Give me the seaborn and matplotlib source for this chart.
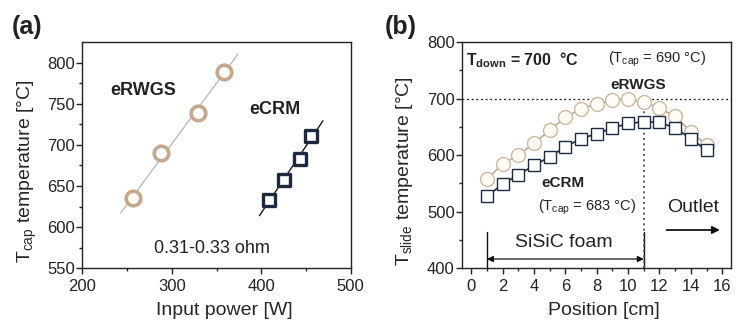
import numpy as np
import pandas as pd
import matplotlib
matplotlib.use("Agg")
import matplotlib.pyplot as plt
import seaborn as sns

# ---------------- data ----------------
# Panel (a): T_cap vs input power
rwgs_power = [256.5, 288.5, 329.4, 358.0]
rwgs_tcap = [635, 690, 739, 789]
crm_power = [408.9, 425.7, 442.8, 455.8]
crm_tcap = [633.5, 657.7, 683, 711]
rwgs_fit_range = [243, 374]
crm_fit_range = [398, 469]

# Panel (b): T_slide vs position
position = [1, 2, 3, 4, 5, 6, 7, 8, 9, 10, 11, 12, 13, 14, 15]
rwgs_slide = [557, 585, 600, 621, 644, 667, 682, 691, 697, 700, 694, 683, 669, 641, 618]
crm_slide = [527, 549, 565, 582, 597, 615, 629, 638, 648, 656, 659, 658, 648, 629, 609]
t_down = 700
foam_start, foam_end = 1, 11

# ---------------- style ----------------
sns.set_style("ticks")
plt.rcParams["font.family"] = ["Liberation Sans", "DejaVu Sans"]
plt.rcParams["mathtext.fontset"] = "custom"
plt.rcParams["mathtext.rm"] = "Liberation Sans"
plt.rcParams["mathtext.it"] = "Liberation Sans:italic"
plt.rcParams["mathtext.bf"] = "Liberation Sans:bold"
plt.rcParams["axes.linewidth"] = 1.0
plt.rcParams["axes.edgecolor"] = "#222222"
plt.rcParams["text.color"] = "#222222"

TAN_A = "#c6a98c"
GRAY_LINE = "#bcbcbc"
NAVY = "#1c2a40"
TAN_B_EDGE = "#cbb9a2"
TAN_B_LINE = "#c4a98a"
CREAM = "#fdfbf4"

fig = plt.figure(figsize=(7.39, 3.31), dpi=100)
W, H = 739, 331
axa = fig.add_axes([82.3 / W, (H - 268.3) / H, 268.4 / W, 226.3 / H])
axb = fig.add_axes([462.3 / W, (H - 268.3) / H, 268.4 / W, 226.3 / H])


def style_axis(ax):
    for s in ["top", "right", "left", "bottom"]:
        ax.spines[s].set_visible(True)
        ax.spines[s].set_color("#222222")
        ax.spines[s].set_linewidth(1.0)
    ax.tick_params(which="both", direction="out", top=False, right=False,
                   labelsize=12, colors="#222222")
    ax.tick_params(which="major", length=4, width=1.0, pad=1.5)
    ax.tick_params(which="minor", length=2.5, width=1.0)
    ax.tick_params(axis="x", which="major", pad=4)


# ---------------- panel (a) ----------------
df_rwgs = pd.DataFrame({"power": rwgs_power, "tcap": rwgs_tcap})
df_crm = pd.DataFrame({"power": crm_power, "tcap": crm_tcap})

k1, b1 = np.polyfit(rwgs_power, rwgs_tcap, 1)
k2, b2 = np.polyfit(crm_power, crm_tcap, 1)
fit1 = pd.DataFrame({"x": rwgs_fit_range, "y": [k1 * v + b1 for v in rwgs_fit_range]})
fit2 = pd.DataFrame({"x": crm_fit_range, "y": [k2 * v + b2 for v in crm_fit_range]})

sns.lineplot(data=fit1, x="x", y="y", ax=axa, color=GRAY_LINE, lw=1.0, zorder=1)
sns.lineplot(data=fit2, x="x", y="y", ax=axa, color="#1a1a1a", lw=1.0, zorder=1)
sns.scatterplot(data=df_rwgs, x="power", y="tcap", ax=axa, marker="o", s=110,
                facecolor="white", edgecolor=TAN_A, linewidth=2.6, zorder=3)
sns.scatterplot(data=df_crm, x="power", y="tcap", ax=axa, marker="s", s=75,
                facecolor="white", edgecolor=NAVY, linewidth=2.4, zorder=3)

axa.set_xlim(200, 500)
axa.set_ylim(550, 825)
axa.set_xticks([200, 300, 400, 500])
axa.set_xticks([250, 350, 450], minor=True)
axa.set_yticks([550, 600, 650, 700, 750, 800])
axa.set_yticks([575, 625, 675, 725, 775], minor=True)
style_axis(axa)
axa.set_xlabel("Input power [W]", fontsize=14)
axa.set_ylabel(r"T$_{\mathrm{cap}}$ temperature [°C]", fontsize=14)
axa.xaxis.set_label_coords(0.53, -0.15)
axa.yaxis.set_label_coords(-0.16, 0.43)

axa.text(267.8, 765.8, "eRWGS", fontsize=13, fontweight="bold", ha="center", va="center")
axa.text(415.4, 742.4, "eCRM", fontsize=13, fontweight="bold", ha="center", va="center")
axa.text(344.6, 574.3, "0.31-0.33 ohm", fontsize=13, ha="center", va="center")

# ---------------- panel (b) ----------------
df_b = pd.DataFrame({"pos": position, "rwgs": rwgs_slide, "crm": crm_slide})

axb.axhline(t_down, color="#111111", lw=0.9, ls=(0, (1.5, 2.2)), zorder=1)
sns.lineplot(data=df_b, x="pos", y="rwgs", ax=axb, color=TAN_B_LINE, lw=1.2,
             marker="o", markersize=10, markerfacecolor=CREAM,
             markeredgecolor=TAN_B_EDGE, markeredgewidth=1.0, zorder=3)
sns.lineplot(data=df_b, x="pos", y="crm", ax=axb, color=NAVY, lw=1.2,
             marker="s", markersize=9, markerfacecolor="white",
             markeredgecolor=NAVY, markeredgewidth=1.0, zorder=4)

axb.set_xlim(-0.57, 16.54)
axb.set_ylim(400, 800)
axb.set_xticks(range(0, 17, 2))
axb.set_xticks(range(1, 17, 2), minor=True)
axb.set_yticks([400, 500, 600, 700, 800])
axb.set_yticks([450, 550, 650, 750], minor=True)
style_axis(axb)
axb.set_xlabel("Position [cm]", fontsize=14)
axb.set_ylabel(r"T$_{\mathrm{slide}}$ temperature [°C]", fontsize=14)
axb.xaxis.set_label_coords(0.528, -0.15)
axb.yaxis.set_label_coords(-0.175, 0.43)

# foam markers
axb.plot([foam_start, foam_start], [400, 465], color="#111111", lw=1.0, zorder=2)
axb.plot([foam_end, foam_end], [400, 465], color="#111111", lw=1.0, zorder=2)
axb.plot([foam_end, foam_end], [400, 708], color="#444444", lw=1.2,
         ls=(0, (1.2, 2.0)), zorder=2)
axb.annotate("", xy=(foam_start, 416.4), xytext=(foam_end, 416.4),
             arrowprops=dict(arrowstyle="<|-|>", color="#111111", lw=0.9,
                             mutation_scale=9, shrinkA=0, shrinkB=0))
axb.annotate("", xy=(15.85, 467.7), xytext=(12.45, 467.7),
             arrowprops=dict(arrowstyle="-|>", color="#111111", lw=1.3,
                             mutation_scale=11, shrinkA=0, shrinkB=0))

axb.text(-0.34, 768, r"T$_{\mathbf{down}}$ = 700  °C", fontsize=11.5,
         fontweight="bold", ha="left", va="center")
axb.text(11.84, 770, r"(T$_{\mathrm{cap}}$ = 690 °C)", fontsize=10.5,
         ha="center", va="center")
axb.text(10.65, 724, "eRWGS", fontsize=11, fontweight="bold", ha="center", va="center")
axb.text(5.87, 550, "eCRM", fontsize=11, fontweight="bold", ha="center", va="center")
axb.text(7.37, 507, r"(T$_{\mathrm{cap}}$ = 683 °C)", fontsize=10.5,
         ha="center", va="center")
axb.text(14.15, 508, "Outlet", fontsize=14, ha="center", va="center")
axb.text(5.91, 446, "SiSiC foam", fontsize=14, ha="center", va="center")

# panel labels
fig.text(12 / W, 1 - 27 / H, "(a)", fontsize=18, fontweight="bold", ha="left", va="center")
fig.text(385 / W, 1 - 27 / H, "(b)", fontsize=18, fontweight="bold", ha="left", va="center")

fig.savefig("out.png", dpi=100)
